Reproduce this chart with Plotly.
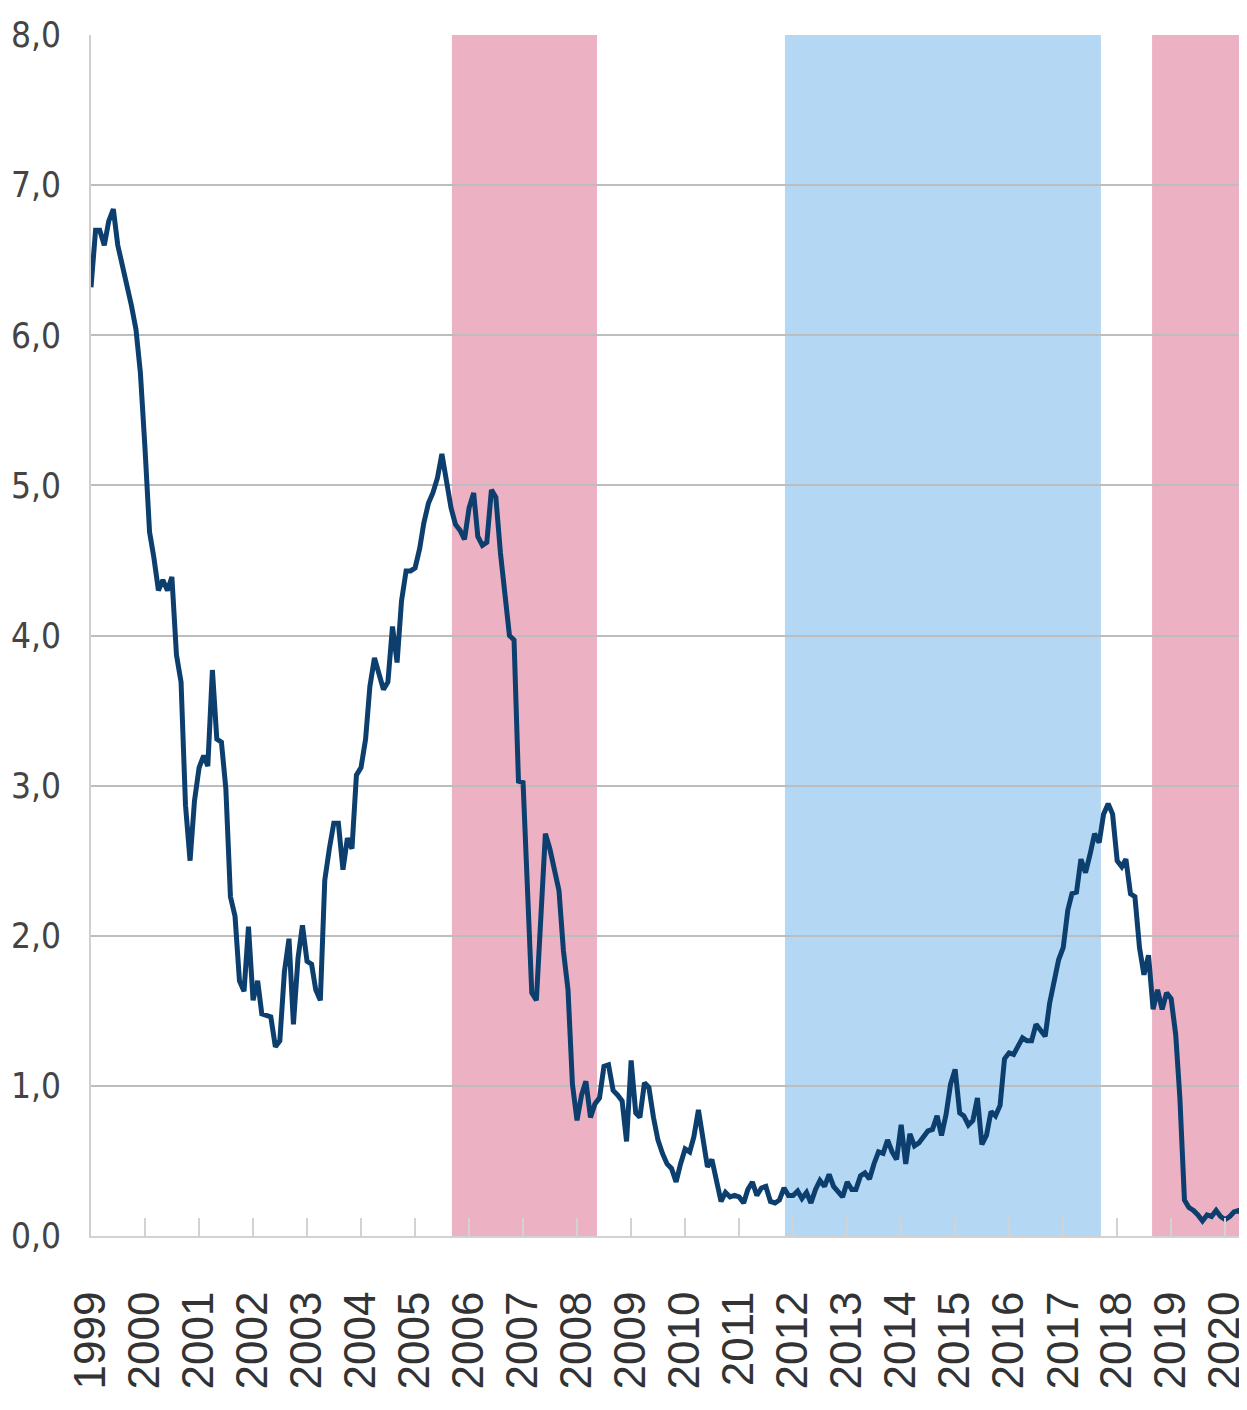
import pandas as pd
import plotly.graph_objects as go

start_month = "1999-01-01"
rate = [
    # 1999
    6.32, 6.70, 6.70, 6.60, 6.76, 6.84, 6.60, 6.47, 6.36, 6.20, 6.04, 5.75,
    # 2000
    5.25, 4.69, 4.52, 4.30, 4.37, 4.30, 4.39, 3.87, 3.69, 2.87, 2.50, 2.90,
    # 2001
    3.12, 3.20, 3.13, 3.77, 3.31, 3.29, 2.98, 2.26, 2.13, 1.70, 1.63, 2.06,
    # 2002
    1.57, 1.70, 1.48, 1.47, 1.46, 1.26, 1.30, 1.76, 1.98, 1.41, 1.85, 2.07,
    # 2003
    1.83, 1.81, 1.64, 1.57, 2.37, 2.58, 2.75, 2.75, 2.44, 2.65, 2.58, 3.07,
    # 2004
    3.12, 3.31, 3.66, 3.85, 3.75, 3.64, 3.69, 4.06, 3.82, 4.23, 4.43, 4.43,
    # 2005
    4.45, 4.58, 4.75, 4.88, 4.95, 5.05, 5.21, 5.02, 4.85, 4.74, 4.70, 4.64,
    # 2006
    4.85, 4.95, 4.66, 4.60, 4.62, 4.97, 4.92, 4.55, 4.25, 4.00, 3.97, 3.03,
    # 2007
    3.02, 2.20, 1.62, 1.57, 2.20, 2.68, 2.58, 2.45, 2.30, 1.90, 1.64, 1.01,
    # 2008
    0.77, 0.94, 1.03, 0.79, 0.88, 0.92, 1.13, 1.14, 0.97, 0.94, 0.90, 0.63,
    # 2009
    1.17, 0.82, 0.79, 1.02, 0.99, 0.79, 0.64, 0.55, 0.48, 0.45, 0.36, 0.48,
    # 2010
    0.58, 0.56, 0.66, 0.84, 0.66, 0.46, 0.51, 0.38, 0.23, 0.29, 0.26, 0.27,
    # 2011
    0.26, 0.22, 0.31, 0.36, 0.27, 0.32, 0.33, 0.23, 0.22, 0.24, 0.32, 0.27,
    # 2012
    0.27, 0.30, 0.25, 0.29, 0.22, 0.31, 0.37, 0.33, 0.41, 0.33, 0.29, 0.26,
    # 2013
    0.36, 0.31, 0.31, 0.40, 0.42, 0.38, 0.48, 0.56, 0.55, 0.64, 0.56, 0.51,
    # 2014
    0.74, 0.48, 0.68, 0.60, 0.62, 0.66, 0.70, 0.71, 0.80, 0.67, 0.81, 1.01,
    # 2015
    1.11, 0.82, 0.80, 0.74, 0.77, 0.92, 0.61, 0.67, 0.83, 0.80, 0.87, 1.18,
    # 2016
    1.22, 1.21, 1.26, 1.32, 1.30, 1.30, 1.41, 1.37, 1.33, 1.55, 1.70, 1.84,
    # 2017
    1.92, 2.17, 2.28, 2.29, 2.51, 2.42, 2.54, 2.68, 2.62, 2.81, 2.88, 2.81,
    # 2018
    2.50, 2.46, 2.51, 2.28, 2.26, 1.92, 1.74, 1.87, 1.51, 1.64, 1.51, 1.62,
    # 2019
    1.58, 1.34, 0.92, 0.24, 0.19, 0.17, 0.14, 0.10, 0.14, 0.13, 0.17, 0.13,
    # 2020
    0.11, 0.13, 0.16, 0.17, 0.14,
]

# shaded periods (start, end)
pink_periods = [("2005-09-07", "2008-05-15"), ("2018-08-25", "2020-05-28")]
blue_periods = [("2011-11-07", "2017-09-13")]
x_range = ["1999-01-01", "2020-05-28"]
y_ticks = [0, 1, 2, 3, 4, 5, 6, 7, 8]

dates = pd.date_range(start_month, periods=len(rate), freq="MS")

fig = go.Figure()
fig.add_trace(go.Scatter(
    x=dates, y=rate, mode="lines",
    line=dict(color="#0c3e6e", width=5),
    hoverinfo="skip", showlegend=False,
))

for x0, x1 in pink_periods:
    fig.add_shape(type="rect", xref="x", yref="y", x0=x0, x1=x1, y0=0, y1=8,
                  fillcolor="#ecb2c3", line=dict(width=0), layer="below")
for x0, x1 in blue_periods:
    fig.add_shape(type="rect", xref="x", yref="y", x0=x0, x1=x1, y0=0, y1=8,
                  fillcolor="#b4d8f4", line=dict(width=0), layer="below")

fig.update_layout(
    width=1239, height=1402,
    margin=dict(l=83, r=0, t=27, b=174),
    paper_bgcolor="white", plot_bgcolor="white",
    separators=",.",
    showlegend=False,
)
fig.update_xaxes(
    type="date", range=x_range, automargin=False,
    tick0="1999-01-01", dtick="M12", tickformat="%Y",
    tickangle=-90,
    ticks="inside", ticklen=18, tickwidth=2, tickcolor="#d2d2d2",
    showgrid=False, showline=True, linecolor="#d2d2d2", linewidth=2,
    tickfont=dict(family="Liberation Sans, Arial, sans-serif", size=44, color="#333333"),
    ticklabelstandoff=36, ticklabeloverflow="allow",
)
fig.update_yaxes(
    range=[0, 8], tickvals=y_ticks, tickformat=".1f", automargin=False,
    showgrid=True, gridcolor="#bdbdbd", gridwidth=2,
    zeroline=False, showline=True, linecolor="#cfcfcf", linewidth=2,
    ticks="", ticklabelstandoff=21, ticklabeloverflow="allow",
    tickfont=dict(family="Liberation Sans Narrow, DejaVu Sans Condensed, Roboto Condensed, Liberation Sans, sans-serif",
                  size=35, color="#444444"),
)

fig.write_html("out.html")
